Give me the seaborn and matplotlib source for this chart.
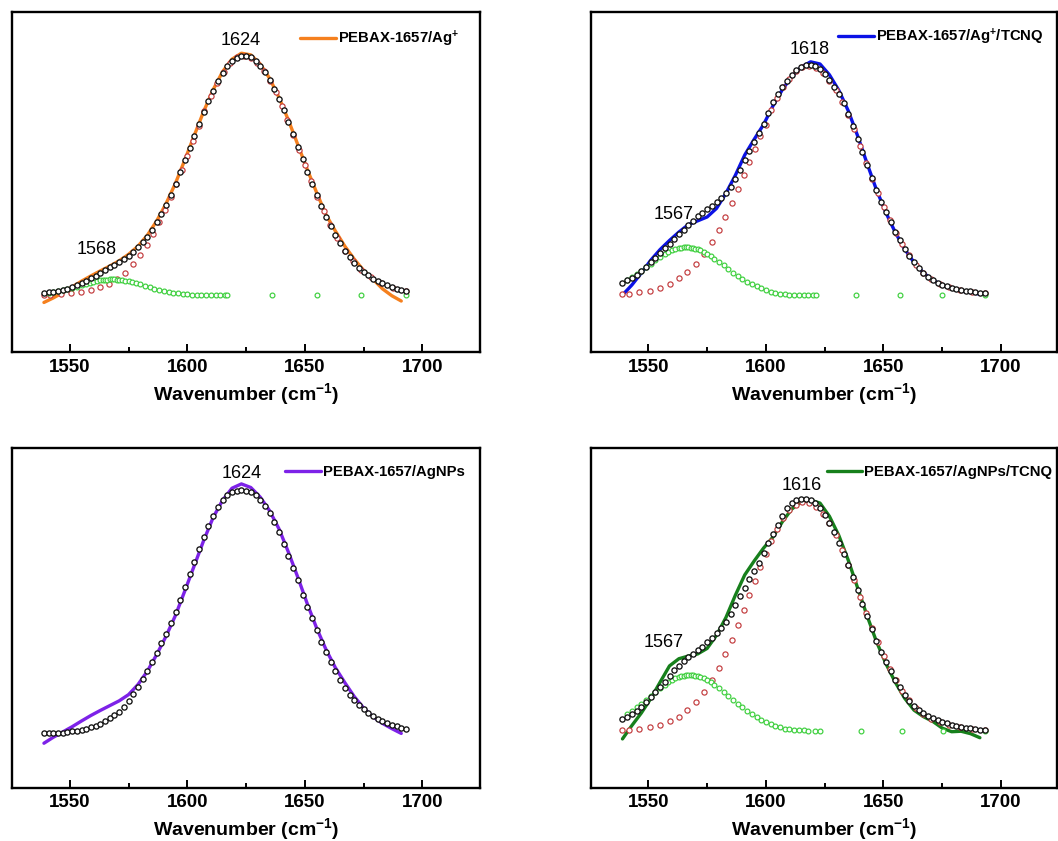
import matplotlib
matplotlib.use('Agg')
import matplotlib.pyplot as plt
import seaborn as sns
from matplotlib.ticker import MultipleLocator

# sampling grids (cm-1)
wavenumber = list(range(1539, 1694, 2))      # cumulative fit points
line_wn = list(range(1539, 1692, 4))         # measured spectrum
red_wn = [1539, 1541.6, 1546.2, 1550.6, 1554.9, 1559.1, 1563, 1566.6, 1570.2, 1573.6,
          1576.9, 1580, 1582.8, 1585.5, 1588.1, 1590.6, 1593, 1595.3, 1597.6, 1599.9,
          1602.3, 1604.8, 1607.3, 1609.9, 1612.6, 1615.4, 1618.3, 1621.2, 1624.1, 1627,
          1629.8, 1632.5, 1635.1, 1637.6, 1640.1, 1642.6, 1645.1, 1647.6, 1650.1, 1652.7,
          1655.3, 1658, 1660.8, 1663.8, 1667, 1670.4, 1674, 1678, 1682.5, 1687.5, 1693]
green_core = [1541, 1543, 1545, 1547, 1549, 1551, 1553, 1555, 1557, 1558.5,
              1560, 1561.5, 1563, 1564, 1565, 1566, 1567, 1568, 1569, 1570,
              1571, 1572, 1573.5, 1575, 1576.5, 1578, 1580, 1582, 1584, 1586,
              1588, 1590, 1592, 1594, 1596, 1598, 1600, 1602, 1604, 1606,
              1608, 1610, 1612, 1614, 1616]
green_wn_p1 = green_core + [1617, 1636, 1655, 1674, 1693]
green_wn_p2 = green_core + [1618, 1620, 1621.5, 1638.5, 1657, 1675, 1693]
green_wn_p4 = green_core + [1618, 1621, 1623, 1640.5, 1658, 1675.5, 1693]

labels = ['PEBAX-1657/Ag$^{+}$', 'PEBAX-1657/Ag$^{+}$/TCNQ',
          'PEBAX-1657/AgNPs', 'PEBAX-1657/AgNPs/TCNQ']
line_colors = ['#f5801e', '#0b12e6', '#7d22e8', '#17801c']

# panel 1: PEBAX-1657/Ag+
spec_p1 = [-0.031, -0.012, 0.010, 0.034, 0.058, 0.080, 0.101, 0.121, 0.143, 0.170,
           0.204, 0.250, 0.310, 0.383, 0.468, 0.566, 0.668, 0.768, 0.858, 0.933,
           0.985, 1.010, 1.003, 0.965, 0.905, 0.825, 0.730, 0.628, 0.525, 0.428,
           0.335, 0.267, 0.204, 0.150, 0.103, 0.066, 0.026, -0.003, -0.025]
fit_p1 = [0.008, 0.011, 0.014, 0.018, 0.022, 0.027, 0.034, 0.041, 0.050, 0.060,
          0.070, 0.081, 0.093, 0.104, 0.115, 0.126, 0.138, 0.151, 0.165, 0.181,
          0.199, 0.220, 0.244, 0.272, 0.303, 0.338, 0.377, 0.419, 0.464, 0.512,
          0.562, 0.613, 0.664, 0.715, 0.764, 0.811, 0.854, 0.893, 0.927, 0.955,
          0.977, 0.992, 1.000, 1.000, 0.993, 0.979, 0.958, 0.931, 0.898, 0.860,
          0.817, 0.771, 0.722, 0.671, 0.619, 0.567, 0.515, 0.465, 0.417, 0.371,
          0.327, 0.287, 0.250, 0.216, 0.185, 0.158, 0.135, 0.114, 0.097, 0.082,
          0.069, 0.058, 0.049, 0.040, 0.032, 0.026, 0.020, 0.015]
main_p1 = [0.001, 0.002, 0.004, 0.007, 0.012, 0.020, 0.032, 0.047, 0.068, 0.094,
           0.128, 0.167, 0.209, 0.255, 0.304, 0.356, 0.410, 0.465, 0.522, 0.581,
           0.644, 0.708, 0.770, 0.830, 0.885, 0.933, 0.970, 0.993, 1.000, 0.992,
           0.969, 0.935, 0.895, 0.846, 0.790, 0.733, 0.669, 0.604, 0.541, 0.475,
           0.411, 0.349, 0.291, 0.237, 0.185, 0.141, 0.105, 0.075, 0.051, 0.031,
           0.015]
side_p1 = [0.009, 0.012, 0.016, 0.020, 0.025, 0.030, 0.035, 0.041, 0.047, 0.051,
           0.055, 0.058, 0.061, 0.062, 0.063, 0.064, 0.065, 0.065, 0.065, 0.064,
           0.063, 0.062, 0.060, 0.057, 0.053, 0.050, 0.044, 0.038, 0.033, 0.027,
           0.022, 0.017, 0.013, 0.010, 0.007, 0.005, 0.003, 0.002, 0.001, 0.001,
           0.000, 0.000, 0.000, 0.000, 0.000,
           0.000, 0.000, 0.000, 0.000, 0.000]

# panel 2: PEBAX-1657/Ag+/TCNQ
spec_p2 = [0.000, 0.042, 0.092, 0.145, 0.190, 0.228, 0.263, 0.294, 0.310, 0.326,
           0.362, 0.425, 0.500, 0.585, 0.650, 0.712, 0.790, 0.858, 0.913, 0.952,
           0.974, 0.965, 0.920, 0.855, 0.770, 0.665, 0.550, 0.440, 0.345, 0.262,
           0.192, 0.136, 0.093, 0.062, 0.042, 0.027, 0.017, 0.010, 0.004]
fit_p2 = [0.051, 0.061, 0.072, 0.085, 0.100, 0.118, 0.137, 0.156, 0.177, 0.196,
          0.215, 0.235, 0.254, 0.273, 0.292, 0.311, 0.329, 0.344, 0.358, 0.373,
          0.389, 0.405, 0.425, 0.451, 0.483, 0.524, 0.563, 0.602, 0.640, 0.677,
          0.715, 0.759, 0.805, 0.838, 0.867, 0.895, 0.920, 0.939, 0.952, 0.959,
          0.961, 0.957, 0.945, 0.923, 0.898, 0.870, 0.840, 0.802, 0.758, 0.708,
          0.652, 0.597, 0.542, 0.488, 0.437, 0.389, 0.346, 0.304, 0.265, 0.228,
          0.194, 0.163, 0.136, 0.113, 0.093, 0.077, 0.063, 0.052, 0.043, 0.036,
          0.030, 0.025, 0.021, 0.018, 0.015, 0.012, 0.010, 0.008]
main_p2 = [0.005, 0.006, 0.011, 0.018, 0.031, 0.046, 0.070, 0.096, 0.131, 0.170,
           0.220, 0.273, 0.327, 0.385, 0.442, 0.500, 0.556, 0.610, 0.665, 0.712,
           0.772, 0.822, 0.867, 0.904, 0.934, 0.952, 0.958, 0.949, 0.927, 0.895,
           0.855, 0.805, 0.752, 0.692, 0.622, 0.553, 0.485, 0.425, 0.367, 0.312,
           0.260, 0.212, 0.166, 0.126, 0.093, 0.068, 0.047, 0.033, 0.022, 0.014,
           0.008]
side_p2 = [0.062, 0.074, 0.087, 0.101, 0.116, 0.131, 0.145, 0.159, 0.172, 0.180,
           0.187, 0.193, 0.197, 0.198, 0.200, 0.200, 0.200, 0.198, 0.197, 0.194,
           0.191, 0.187, 0.180, 0.172, 0.163, 0.152, 0.138, 0.124, 0.109, 0.094,
           0.080, 0.068, 0.056, 0.046, 0.036, 0.028, 0.020, 0.014, 0.009, 0.006,
           0.004, 0.002, 0.001, 0.000, 0.000,
           0.000, 0.000, 0.000, 0.000, 0.000, 0.000, 0.000]

# panel 3: PEBAX-1657/AgNPs
spec_p3 = [-0.053, -0.028, -0.006, 0.016, 0.040, 0.063, 0.084, 0.104, 0.124, 0.150,
           0.192, 0.248, 0.318, 0.395, 0.482, 0.585, 0.690, 0.795, 0.890, 0.962,
           1.012, 1.030, 1.015, 0.975, 0.918, 0.842, 0.745, 0.640, 0.530, 0.428,
           0.338, 0.262, 0.200, 0.142, 0.094, 0.057, 0.030, 0.008, -0.012]
fit_p3 = [-0.012, -0.012, -0.012, -0.011, -0.010, -0.007, -0.004, -0.001, 0.003, 0.008,
          0.013, 0.020, 0.029, 0.040, 0.053, 0.065, 0.079, 0.098, 0.123, 0.152,
          0.181, 0.216, 0.250, 0.285, 0.325, 0.365, 0.405, 0.450, 0.495, 0.546,
          0.601, 0.655, 0.705, 0.757, 0.810, 0.855, 0.896, 0.932, 0.962, 0.982,
          0.995, 1.002, 1.004, 1.001, 0.995, 0.982, 0.962, 0.937, 0.908, 0.872,
          0.828, 0.778, 0.728, 0.680, 0.628, 0.568, 0.518, 0.470, 0.420, 0.370,
          0.327, 0.288, 0.249, 0.212, 0.178, 0.150, 0.126, 0.105, 0.089, 0.075,
          0.062, 0.050, 0.040, 0.031, 0.023, 0.017, 0.012, 0.007]

# panel 4: PEBAX-1657/AgNPs/TCNQ
spec_p4 = [-0.035, 0.021, 0.073, 0.133, 0.202, 0.270, 0.300, 0.311, 0.320, 0.343,
           0.398, 0.472, 0.565, 0.650, 0.708, 0.762, 0.808, 0.872, 0.925, 0.955,
           0.962, 0.950, 0.895, 0.815, 0.712, 0.596, 0.480, 0.372, 0.280, 0.202,
           0.135, 0.085, 0.058, 0.038, 0.010, -0.005, -0.003, -0.013, -0.030]
fit_p4 = [0.049, 0.058, 0.068, 0.083, 0.100, 0.118, 0.138, 0.159, 0.181, 0.204,
          0.229, 0.251, 0.271, 0.290, 0.307, 0.321, 0.335, 0.350, 0.368, 0.386,
          0.407, 0.430, 0.455, 0.485, 0.525, 0.560, 0.597, 0.632, 0.665, 0.700,
          0.740, 0.783, 0.820, 0.860, 0.898, 0.930, 0.950, 0.961, 0.965, 0.966,
          0.962, 0.950, 0.928, 0.900, 0.866, 0.828, 0.784, 0.738, 0.690, 0.640,
          0.585, 0.530, 0.477, 0.425, 0.375, 0.328, 0.285, 0.247, 0.212, 0.180,
          0.150, 0.124, 0.102, 0.086, 0.073, 0.062, 0.052, 0.043, 0.036, 0.030,
          0.025, 0.020, 0.016, 0.012, 0.009, 0.006, 0.004, 0.003]
main_p4 = [0.003, 0.004, 0.007, 0.014, 0.023, 0.038, 0.058, 0.084, 0.118, 0.160,
           0.209, 0.263, 0.319, 0.378, 0.440, 0.503, 0.564, 0.624, 0.682, 0.738,
           0.792, 0.843, 0.886, 0.920, 0.944, 0.955, 0.951, 0.933, 0.905, 0.866,
           0.815, 0.755, 0.692, 0.628, 0.558, 0.490, 0.428, 0.368, 0.312, 0.258,
           0.211, 0.167, 0.128, 0.095, 0.070, 0.050, 0.035, 0.023, 0.013, 0.006,
           0.003]
side_p4 = [0.069, 0.082, 0.097, 0.112, 0.128, 0.145, 0.161, 0.177, 0.192, 0.202,
           0.211, 0.218, 0.224, 0.227, 0.229, 0.231, 0.232, 0.232, 0.231, 0.229,
           0.227, 0.224, 0.218, 0.211, 0.202, 0.192, 0.177, 0.161, 0.145, 0.128,
           0.112, 0.097, 0.082, 0.069, 0.057, 0.046, 0.036, 0.027, 0.018, 0.013,
           0.008, 0.005, 0.003, 0.002, 0.001,
           0.000, 0.000, 0.000, 0.000, 0.000, 0.000, 0.000]

# peak labels (text, wavenumber, height)
peaks_p1 = [('1624', 1622.5, 1.063), ('1568', 1561.6, 0.192)]
peaks_p2 = [('1618', 1618.5, 1.025), ('1567', 1560.6, 0.336)]
peaks_p3 = [('1624', 1623.2, 1.075)]
peaks_p4 = [('1616', 1615.2, 1.024), ('1567', 1556.7, 0.369)]

sns.set_theme(style='white')
plt.rcParams['font.family'] = ['Liberation Sans', 'DejaVu Sans']
plt.rcParams['font.weight'] = 'bold'
plt.rcParams['text.color'] = 'black'
plt.rcParams['axes.labelcolor'] = 'black'
plt.rcParams['xtick.color'] = 'black'
plt.rcParams['mathtext.fontset'] = 'custom'
plt.rcParams['mathtext.rm'] = 'Liberation Sans:bold'
plt.rcParams['mathtext.bf'] = 'Liberation Sans:bold'
plt.rcParams['mathtext.default'] = 'bf'


def draw_panel(ax, spec, fit, label, color, peaks, xlim, main=None, side=None, side_wn=None):
    sns.lineplot(x=line_wn, y=spec, ax=ax, color=color, linewidth=2.4,
                 sort=False, estimator=None, label=label, zorder=2)
    if main is not None:
        sns.scatterplot(x=red_wn, y=main, ax=ax, marker='o', s=14, color='white',
                        edgecolor='#c23a3c', linewidth=0.85, zorder=3)
    if side is not None:
        sns.scatterplot(x=side_wn, y=side, ax=ax, marker='o', s=12, color='white',
                        edgecolor='#3ccf3c', linewidth=0.85, zorder=4)
    sns.scatterplot(x=wavenumber, y=fit, ax=ax, marker='o', s=14, color='white',
                    edgecolor='#111111', linewidth=0.95, zorder=5)

    for txt, px, py in peaks:
        ax.text(px, py, txt, ha='center', va='center', fontsize=13,
                fontweight='normal', color='black', zorder=6)

    ax.set_xlim(*xlim)
    ax.set_ylim(-0.24, 1.18)
    ax.set_yticks([])
    ax.xaxis.set_major_locator(MultipleLocator(50))
    ax.xaxis.set_minor_locator(MultipleLocator(25))
    ax.tick_params(axis='x', which='both', direction='in', bottom=True, top=False,
                   width=1.4, labelsize=13.5, pad=4.5, colors='black')
    ax.tick_params(axis='x', which='major', length=5.8)
    ax.tick_params(axis='x', which='minor', length=3.6)
    ax.set_xlabel('Wavenumber (cm$^{-1}$)', fontsize=14, fontweight='bold', labelpad=3.5)
    ax.set_ylabel('')
    for sp in ax.spines.values():
        sp.set_visible(True)
        sp.set_color('black')
        sp.set_linewidth(1.7)


fig = plt.figure(figsize=(10.58, 8.41), dpi=100)

axes = [fig.add_axes([0.01087, 0.58086, 0.44282, 0.40428]),
        fig.add_axes([0.55813, 0.58086, 0.44093, 0.40428]),
        fig.add_axes([0.01087, 0.06302, 0.44282, 0.40428]),
        fig.add_axes([0.55813, 0.06302, 0.44093, 0.40428])]
xlims = [(1525.2, 1724.5), (1525.4, 1723.8), (1525.2, 1724.5), (1525.4, 1723.8)]
legend_pos = [(0.616, 0.922), (0.531, 0.929), (0.584, 0.929), (0.506, 0.930)]

draw_panel(axes[0], spec_p1, fit_p1, labels[0], line_colors[0], peaks_p1, xlims[0],
           main_p1, side_p1, green_wn_p1)
draw_panel(axes[1], spec_p2, fit_p2, labels[1], line_colors[1], peaks_p2, xlims[1],
           main_p2, side_p2, green_wn_p2)
draw_panel(axes[2], spec_p3, fit_p3, labels[2], line_colors[2], peaks_p3, xlims[2])
draw_panel(axes[3], spec_p4, fit_p4, labels[3], line_colors[3], peaks_p4, xlims[3],
           main_p4, side_p4, green_wn_p4)

# legend: only the measured spectrum line
for ax, pos in zip(axes, legend_pos):
    handle = ax.lines[0]
    ax.legend(handles=[handle], loc='center left', bbox_to_anchor=pos, frameon=False,
              fontsize=10.7, handlelength=2.4, handletextpad=0.15, borderpad=0,
              borderaxespad=0)

plt.savefig('out.png', dpi=100)
plt.close()
